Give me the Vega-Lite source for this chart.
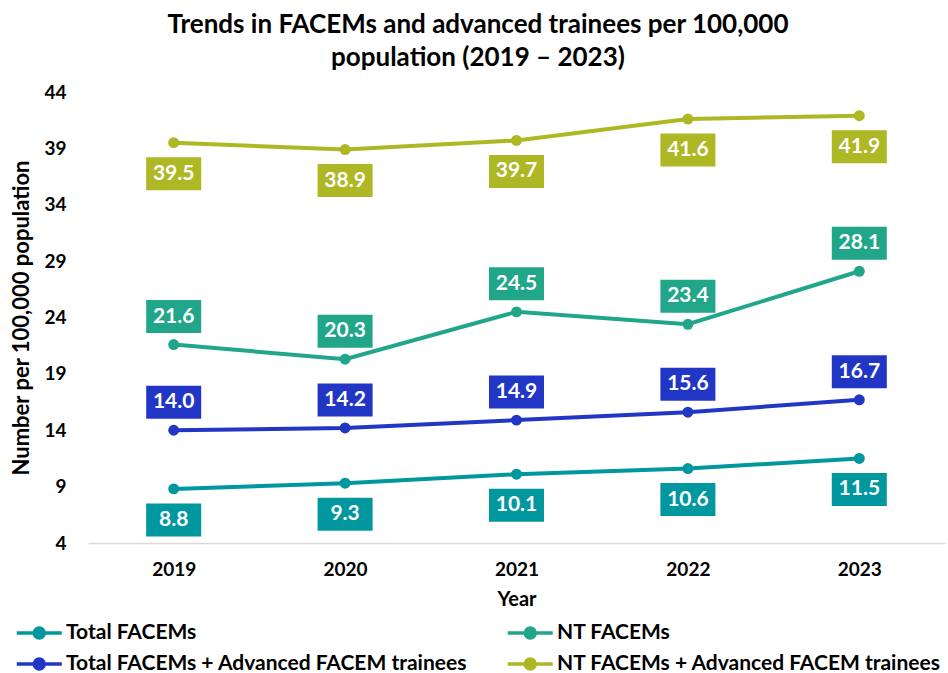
{
  "$schema": "https://vega.github.io/schema/vega-lite/v6.json",
  "width": 857,
  "height": 451,
  "autosize": {"type": "none"},
  "padding": {"left": 88, "top": 92, "right": 3, "bottom": 130},
  "background": "white",
  "title": {
    "text": ["Trends in FACEMs and advanced trainees per 100,000", "population (2019 – 2023)"],
    "anchor": "middle",
    "frame": "bounds",
    "fontSize": 26,
    "fontWeight": "bold",
    "lineHeight": 33,
    "color": "#000000",
    "offset": 12
  },
  "config": {
    "font": "Lato, sans-serif",
    "view": {"stroke": null}
  },
  "data": {
    "values": [
      {"year": "2019", "series": "Total FACEMs", "value": 8.8},
      {"year": "2020", "series": "Total FACEMs", "value": 9.3},
      {"year": "2021", "series": "Total FACEMs", "value": 10.1},
      {"year": "2022", "series": "Total FACEMs", "value": 10.6},
      {"year": "2023", "series": "Total FACEMs", "value": 11.5},
      {"year": "2019", "series": "NT FACEMs", "value": 21.6},
      {"year": "2020", "series": "NT FACEMs", "value": 20.3},
      {"year": "2021", "series": "NT FACEMs", "value": 24.5},
      {"year": "2022", "series": "NT FACEMs", "value": 23.4},
      {"year": "2023", "series": "NT FACEMs", "value": 28.1},
      {"year": "2019", "series": "Total FACEMs + Advanced FACEM trainees", "value": 14.0},
      {"year": "2020", "series": "Total FACEMs + Advanced FACEM trainees", "value": 14.2},
      {"year": "2021", "series": "Total FACEMs + Advanced FACEM trainees", "value": 14.9},
      {"year": "2022", "series": "Total FACEMs + Advanced FACEM trainees", "value": 15.6},
      {"year": "2023", "series": "Total FACEMs + Advanced FACEM trainees", "value": 16.7},
      {"year": "2019", "series": "NT FACEMs + Advanced FACEM trainees", "value": 39.5},
      {"year": "2020", "series": "NT FACEMs + Advanced FACEM trainees", "value": 38.9},
      {"year": "2021", "series": "NT FACEMs + Advanced FACEM trainees", "value": 39.7},
      {"year": "2022", "series": "NT FACEMs + Advanced FACEM trainees", "value": 41.6},
      {"year": "2023", "series": "NT FACEMs + Advanced FACEM trainees", "value": 41.9}
    ]
  },
  "encoding": {
    "x": {
      "field": "year",
      "type": "ordinal",
      "scale": {"type": "point", "padding": 0.5},
      "axis": {
        "title": "Year",
        "labelAngle": 0,
        "labelFontSize": 19,
        "labelFontWeight": "bold",
        "labelColor": "#000000",
        "labelPadding": 17,
        "ticks": false,
        "domainColor": "#d9d9d9",
        "domainWidth": 1.5,
        "titleFontSize": 20,
        "titleFontWeight": "bold",
        "titleColor": "#000000",
        "titlePadding": 10
      }
    },
    "y": {
      "field": "value",
      "type": "quantitative",
      "scale": {"domain": [4, 44], "nice": false, "zero": false},
      "axis": {
        "title": "Number per 100,000 population",
        "values": [4, 9, 14, 19, 24, 29, 34, 39, 44],
        "grid": false,
        "domain": false,
        "ticks": false,
        "labelFontSize": 19,
        "labelFontWeight": "bold",
        "labelColor": "#000000",
        "labelPadding": 22,
        "titleFontSize": 22,
        "titleFontWeight": "bold",
        "titleColor": "#000000",
        "titlePadding": 10
      }
    },
    "color": {
      "field": "series",
      "type": "nominal",
      "scale": {
        "domain": ["Total FACEMs", "Total FACEMs + Advanced FACEM trainees", "NT FACEMs", "NT FACEMs + Advanced FACEM trainees"],
        "range": ["#00979f", "#2236c6", "#21a68a", "#aeb724"]
      },
      "legend": {
        "title": null,
        "orient": "none",
        "legendX": -73,
        "legendY": 528,
        "columns": 2,
        "columnPadding": 32,
        "rowPadding": 6,
        "labelFontSize": 21,
        "labelFontWeight": "bold",
        "labelColor": "#000000",
        "labelOffset": 25,
        "labelLimit": 600,
        "symbolType": "M-1,0H3M0.56,0A0.44,0.44,0,1,1,1.44,0A0.44,0.44,0,1,1,0.56,0Z",
        "symbolSize": 506,
        "symbolStrokeWidth": 3.5,
        "encode": {
          "symbols": {
            "update": {
              "fill": {"scale": "color", "field": "value"},
              "stroke": {"scale": "color", "field": "value"},
              "opacity": {"value": 1}
            }
          }
        }
      }
    }
  },
  "layer": [
    {"mark": {"type": "line", "strokeWidth": 4}},
    {"mark": {"type": "point", "filled": true, "size": 120, "opacity": 1}},
    {
      "transform": [{"filter": {"field": "series", "oneOf": ["NT FACEMs", "Total FACEMs + Advanced FACEM trainees"]}}],
      "mark": {"type": "point", "filled": true, "opacity": 1, "shape": "M-1.667,-1H1.667V1H-1.667Z", "size": 1089, "yOffset": -28}
    },
    {
      "transform": [{"filter": {"field": "series", "oneOf": ["NT FACEMs", "Total FACEMs + Advanced FACEM trainees"]}}],
      "mark": {"type": "text", "color": "white", "fontSize": 21, "fontWeight": "bold", "baseline": "middle", "yOffset": -28},
      "encoding": {"text": {"field": "value", "type": "quantitative", "format": ".1f"}, "color": {"value": "white"}}
    },
    {
      "transform": [{"filter": {"field": "series", "oneOf": ["Total FACEMs", "NT FACEMs + Advanced FACEM trainees"]}}],
      "mark": {"type": "point", "filled": true, "opacity": 1, "shape": "M-1.667,-1H1.667V1H-1.667Z", "size": 1089, "yOffset": 31}
    },
    {
      "transform": [{"filter": {"field": "series", "oneOf": ["Total FACEMs", "NT FACEMs + Advanced FACEM trainees"]}}],
      "mark": {"type": "text", "color": "white", "fontSize": 21, "fontWeight": "bold", "baseline": "middle", "yOffset": 31},
      "encoding": {"text": {"field": "value", "type": "quantitative", "format": ".1f"}, "color": {"value": "white"}}
    }
  ]
}
